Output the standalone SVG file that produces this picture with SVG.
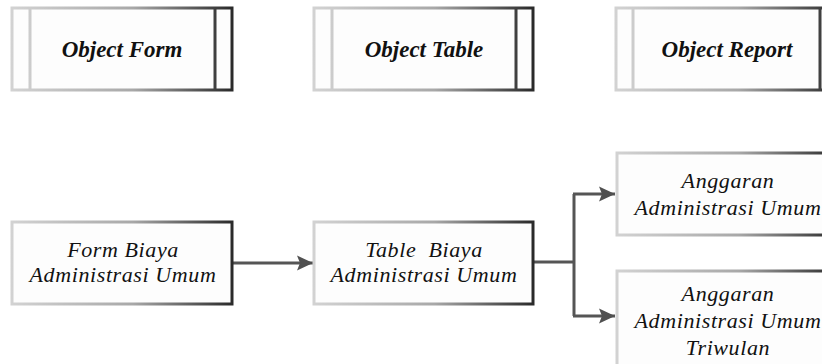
<svg xmlns="http://www.w3.org/2000/svg" width="822" height="364" viewBox="0 0 822 364">
<defs>
<linearGradient id="g" x1="0" y1="0" x2="1" y2="0">
<stop offset="0" stop-color="#d2d2d2"/>
<stop offset="0.55" stop-color="#a8a8a8"/>
<stop offset="1" stop-color="#2a2a2a"/>
</linearGradient>
<marker id="ah" markerUnits="userSpaceOnUse" markerWidth="17" markerHeight="17" viewBox="0 0 17 17" refX="16" refY="8.5" orient="auto">
<path d="M0,1 L16,8.5 L0,16 L3,8.5 Z" fill="#505050"/>
</marker>
<style>
.box{fill:#fdfdfd;stroke:url(#g);stroke-width:3}
.tt{font-family:"Liberation Serif","Times New Roman",serif;font-style:italic;font-weight:bold;font-size:23px;fill:#111;text-anchor:middle}
.bt{font-family:"Liberation Serif","Times New Roman",serif;font-style:italic;font-size:22px;letter-spacing:0.6px;fill:#111;text-anchor:middle}
.con{fill:none;stroke:#555;stroke-width:3}
</style>
</defs>
<rect width="822" height="364" fill="#fff"/>
<g id="object-form">
<path class="box" d="M12,8 H232 V90 H12 Z M30,8 V90 M215,8 V90"/>
<text class="tt" x="122" y="57">Object Form</text>
</g>
<g id="object-table">
<path class="box" d="M314,8 H533 V90 H314 Z M332,8 V90 M516,8 V90"/>
<text class="tt" x="424" y="57">Object Table</text>
</g>
<g id="object-report">
<path class="box" d="M616,8 H838 V90 H616 Z M633,8 V90 M820,8 V90"/>
<text class="tt" x="727" y="57">Object Report</text>
</g>
<g id="connectors">
<path class="con" d="M232,263 H313" marker-end="url(#ah)"/>
<path class="con" d="M533,262 H574"/>
<path class="con" d="M574,194 V316"/>
<path class="con" d="M573,194 H615" marker-end="url(#ah)"/>
<path class="con" d="M573,316 H615" marker-end="url(#ah)"/>
</g>
<g id="form-biaya">
<rect class="box" x="12" y="222" width="220" height="82"/>
<text class="bt" x="123" y="257">Form Biaya</text>
<text class="bt" x="123" y="282">Administrasi Umum</text>
</g>
<g id="table-biaya">
<rect class="box" x="314" y="222" width="219" height="82"/>
<text class="bt" x="424" y="257" xml:space="preserve">Table  Biaya</text>
<text class="bt" x="424" y="282">Administrasi Umum</text>
</g>
<g id="anggaran">
<rect class="box" x="617" y="153" width="221" height="82"/>
<text class="bt" x="728" y="188">Anggaran</text>
<text class="bt" x="728" y="215">Administrasi Umum</text>
</g>
<g id="anggaran-triwulan">
<rect class="box" x="617" y="271" width="221" height="100"/>
<text class="bt" x="728" y="301">Anggaran</text>
<text class="bt" x="728" y="328">Administrasi Umum</text>
<text class="bt" x="728" y="355">Triwulan</text>
</g>
</svg>
